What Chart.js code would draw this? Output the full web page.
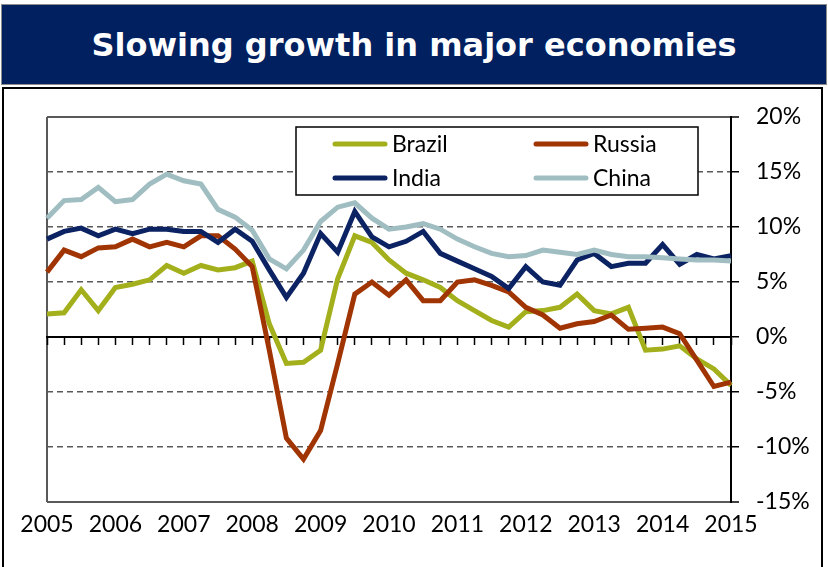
<!DOCTYPE html>
<html>
<head>
<meta charset="utf-8">
<script src="https://cdn.jsdelivr.net/npm/chart.js@4.4.0/dist/chart.umd.min.js"></script>
<style>
html,body{margin:0;padding:0;background:#fff;width:828px;height:567px;overflow:hidden;}
#title{position:absolute;left:1px;top:4px;width:824px;height:79px;background:#002060;border:1px solid #8c8c8c;color:#fff;
  font-family:"DejaVu Sans",Verdana,sans-serif;font-weight:bold;font-size:32px;display:flex;align-items:center;justify-content:center;}
#frame{position:absolute;left:2px;top:87px;width:817px;height:500px;border:2px solid #000;}
#wrap{position:absolute;left:0;top:0;width:828px;height:567px;}
</style>
</head>
<body>
<div id="title">Slowing growth in major economies</div>
<div id="frame"></div>
<div id="wrap"><canvas id="c" width="828" height="567"></canvas></div>
<script>
// Quarterly categories, 2005 Q1 .. 2015 Q1
const quarters = [
  '2005 Q1','2005 Q2','2005 Q3','2005 Q4',
  '2006 Q1','2006 Q2','2006 Q3','2006 Q4',
  '2007 Q1','2007 Q2','2007 Q3','2007 Q4',
  '2008 Q1','2008 Q2','2008 Q3','2008 Q4',
  '2009 Q1','2009 Q2','2009 Q3','2009 Q4',
  '2010 Q1','2010 Q2','2010 Q3','2010 Q4',
  '2011 Q1','2011 Q2','2011 Q3','2011 Q4',
  '2012 Q1','2012 Q2','2012 Q3','2012 Q4',
  '2013 Q1','2013 Q2','2013 Q3','2013 Q4',
  '2014 Q1','2014 Q2','2014 Q3','2014 Q4',
  '2015 Q1'
];
const yearTicks = ['2005','2006','2007','2008','2009','2010','2011','2012','2013','2014','2015'];
const yTicks = [20, 15, 10, 5, 0, -5, -10, -15];

const brazil = [2.1, 2.2, 4.3, 2.4, 4.5, 4.8, 5.2, 6.5, 5.8, 6.5, 6.1, 6.3, 6.9, 1.2, -2.4, -2.3, -1.2, 5.3, 9.2, 8.6,
                7.0, 5.8, 5.2, 4.5, 3.3, 2.4, 1.5, 0.9, 2.3, 2.4, 2.7, 3.9, 2.4, 2.1, 2.7, -1.2, -1.1, -0.8, -2.0, -2.9, -4.4];
const russia = [5.9, 7.9, 7.3, 8.1, 8.2, 8.9, 8.2, 8.6, 8.2, 9.2, 9.2, 8.0, 6.4, -1.2, -9.2, -11.1, -8.5, -2.4, 3.9, 5.0,
                3.8, 5.2, 3.3, 3.3, 5.0, 5.2, 4.7, 4.1, 2.7, 2.0, 0.8, 1.2, 1.4, 2.0, 0.7, 0.8, 0.9, 0.3, -2.1, -4.5, -4.1];
const india  = [8.9, 9.6, 9.9, 9.2, 9.8, 9.4, 9.8, 9.8, 9.6, 9.6, 8.6, 9.8, 8.7, 6.1, 3.6, 5.8, 9.4, 7.7, 11.4, 9.1,
                8.2, 8.7, 9.6, 7.6, 6.9, 6.2, 5.5, 4.4, 6.4, 5.0, 4.7, 7.0, 7.6, 6.4, 6.7, 6.7, 8.4, 6.6, 7.5, 7.1, 7.4];
const china  = [10.8, 12.4, 12.5, 13.6, 12.3, 12.5, 13.9, 14.8, 14.2, 13.9, 11.6, 10.9, 9.7, 7.1, 6.2, 7.9, 10.5, 11.8, 12.2, 10.8,
                9.8, 10.0, 10.3, 9.8, 8.9, 8.2, 7.6, 7.3, 7.4, 7.9, 7.7, 7.5, 7.9, 7.5, 7.3, 7.3, 7.2, 7.1, 7.0, 7.0, 6.9];

const seriesNames = ['Brazil', 'Russia', 'India', 'China'];
const seriesColors = ['#A3B01C', '#A03503', '#0B2263', '#A0BEC1'];

const FONT = 'Lato, "Open Sans", sans-serif';
const GRID = '#595959';

const boxLegend = {
  id: 'boxLegend',
  afterDatasetsDraw(chart) {
    const ctx = chart.ctx;
    const bx = 296, by = 127, bw = 402, bh = 68;
    ctx.save();
    ctx.fillStyle = '#fff';
    ctx.fillRect(bx, by, bw, bh);
    ctx.strokeStyle = '#000';
    ctx.lineWidth = 1.5;
    ctx.strokeRect(bx, by, bw, bh);
    const cols = [333, 534];
    const rows = [144, 178];
    ctx.font = '23px ' + FONT;
    ctx.textBaseline = 'middle';
    ctx.textAlign = 'left';
    chart.data.datasets.forEach((ds, i) => {
      const x = cols[i % 2], y = rows[Math.floor(i / 2)];
      ctx.strokeStyle = ds.borderColor;
      ctx.lineWidth = 5;
      ctx.lineCap = 'round';
      ctx.beginPath();
      ctx.moveTo(x + 2, y);
      ctx.lineTo(x + 52, y);
      ctx.stroke();
      ctx.fillStyle = '#000';
      ctx.fillText(ds.label, x + 59, y + 1);
    });
    ctx.restore();
  }
};

const mkDs = (i, data, order) => ({
  label: seriesNames[i], data, borderColor: seriesColors[i], backgroundColor: seriesColors[i],
  borderWidth: 5, pointRadius: 0, tension: 0, fill: false, order,
  xAxisID: 'x', yAxisID: 'y', borderJoinStyle: 'miter', borderCapStyle: 'butt'
});

new Chart(document.getElementById('c'), {
  type: 'line',
  data: {
    labels: quarters,
    datasets: [mkDs(0, brazil, 3), mkDs(1, russia, 2), mkDs(2, india, 1), mkDs(3, china, 0)]
  },
  options: {
    responsive: false,
    animation: false,
    devicePixelRatio: 1,
    layout: { padding: { left: 47, top: 117, right: 7, bottom: 25 } },
    plugins: { legend: { display: false }, tooltip: { enabled: false }, title: { display: false } },
    scales: {
      x: {
        type: 'category', position: 'bottom', offset: false,
        grid: {
          drawTicks: false, lineWidth: 2,
          color: (c) => c.index === 0 ? GRID : 'rgba(0,0,0,0)'
        },
        border: { display: false },
        ticks: {
          autoSkip: false, maxRotation: 0, minRotation: 0, padding: 9, color: '#000',
          font: { family: FONT, size: 23 },
          callback: (v, idx) => idx % 4 === 0 ? yearTicks[idx / 4] : ''
        },
        afterFit: (s) => { s.height = 40; }
      },
      xZero: {
        type: 'category', axis: 'x', position: { y: 0 }, offset: false,
        grid: { drawOnChartArea: false, drawTicks: true, tickLength: 7, tickColor: '#000', tickWidth: 1.5 },
        border: { display: true, color: '#000', width: 2 },
        ticks: { display: false, autoSkip: false }
      },
      y: {
        type: 'linear', position: 'right', min: -15, max: 20,
        afterBuildTicks: (s) => { s.ticks = yTicks.map(v => ({ value: v })); },
        grid: {
          color: (c) => (c.tick && c.tick.value === 0) ? 'rgba(0,0,0,0)' : GRID,
          lineWidth: (c) => (c.tick && (c.tick.value === 20 || c.tick.value === -15)) ? 2 : 1.5,
          tickLength: 8, tickColor: '#000', tickWidth: 1.5, tickBorderDash: []
        },
        border: {
          display: true, color: '#000', width: 2,
          dash: (c) => (c.tick && c.tick.value !== 20 && c.tick.value !== -15) ? [6, 4] : []
        },
        ticks: {
          padding: 17, color: '#000', font: { family: FONT, size: 23 },
          callback: (v) => v + '%'
        },
        afterFit: (s) => { s.width = 90; }
      }
    }
  },
  plugins: [boxLegend]
});
</script>
</body>
</html>
